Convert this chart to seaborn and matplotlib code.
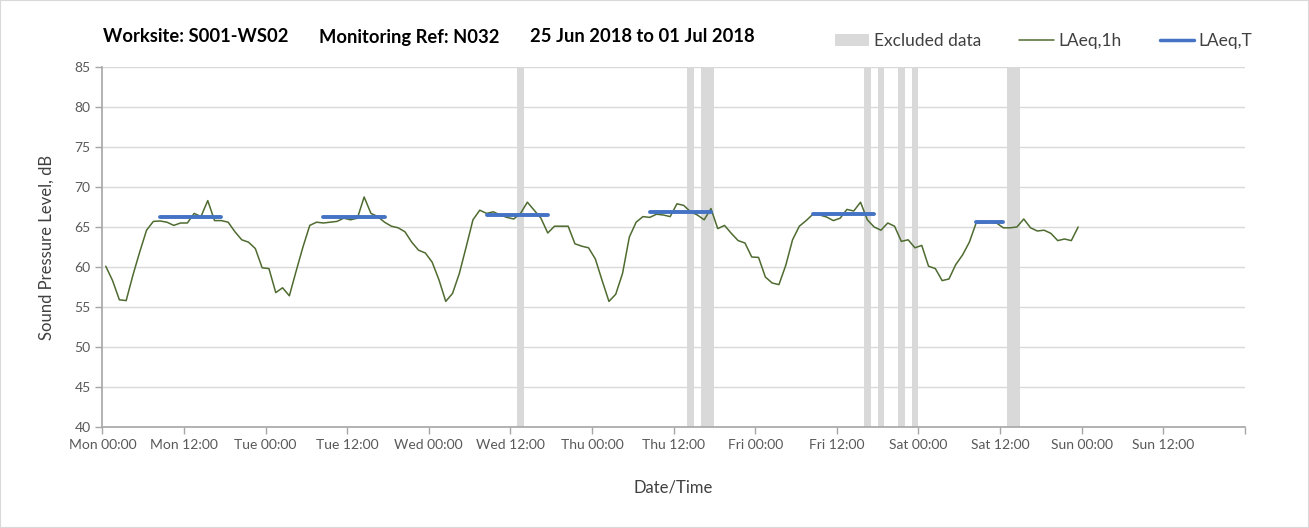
import pandas as pd
import seaborn as sns
from matplotlib import pyplot as plt
from matplotlib.lines import Line2D
from matplotlib.patches import Patch, Rectangle

# hourly LAeq,1h values, Mon 00:00 onwards (one value per hour)
LAEQ_1H = [
    60.1, 58.3, 55.9, 55.8, 59.0, 61.9, 64.6, 65.7, 65.75, 65.6, 65.2, 65.5,
    65.5, 66.7, 66.3, 68.3, 65.8, 65.8, 65.6, 64.4, 63.4, 63.1, 62.3, 59.9,
    59.8, 56.8, 57.4, 56.4, 59.5, 62.5, 65.2, 65.6, 65.5, 65.6, 65.7, 66.1,
    65.9, 66.1, 68.75, 66.7, 66.3, 65.6, 65.1, 64.9, 64.4, 63.1, 62.1, 61.75,
    60.6, 58.4, 55.7, 56.7, 59.2, 62.5, 65.9, 67.1, 66.7, 66.9, 66.5, 66.2,
    66.0, 66.7, 68.1, 67.1, 66.1, 64.25, 65.1, 65.1, 65.1, 62.9, 62.6, 62.4,
    61.0, 58.3, 55.7, 56.6, 59.2, 63.75, 65.6, 66.3, 66.2, 66.6, 66.5, 66.3,
    67.9, 67.7, 66.9, 66.5, 65.9, 67.3, 64.8, 65.2, 64.2, 63.3, 63.0, 61.25,
    61.2, 58.75, 58.0, 57.8, 60.2, 63.4, 65.1, 65.8, 66.6, 66.5, 66.25, 65.8,
    66.1, 67.2, 67.0, 68.1, 65.9, 65.0, 64.6, 65.5, 65.1, 63.2, 63.4, 62.4,
    62.7, 60.1, 59.8, 58.3, 58.5, 60.3, 61.5, 63.1, 65.5, 65.5, 65.6, 65.5,
    64.9, 64.9, 65.0, 66.0, 64.9, 64.5, 64.6, 64.2, 63.3, 63.5, 63.3, 65.0,
]

# excluded periods: start hour (from Mon 00:00) and length in hours
EXCLUDED_START = [61, 86, 88, 112, 114, 117, 119, 133]
EXCLUDED_HOURS = [1, 1, 2, 1, 1, 1, 1, 2]

# LAeq,T per working day: day index, period start / end hour, level
LAEQ_T_DAY = [0, 1, 2, 3, 4, 5]
LAEQ_T_FROM = [8, 8, 8, 8, 8, 8]
LAEQ_T_TO = [18, 18, 18, 18, 18, 13]
LAEQ_T = [66.25, 66.3, 66.5, 66.9, 66.6, 65.6]

DAYS = ["Mon", "Tue", "Wed", "Thu", "Fri", "Sat", "Sun"]
TITLE_PARTS = ["Worksite: S001-WS02", "Monitoring Ref: N032", "25 Jun 2018 to 01 Jul 2018"]

GREEN = "#4E6B30"
BLUE = "#4472C4"
BAND = "#D9D9D9"
AXIS = "#A6A6A6"
TEXT = "#595959"

sns.set_theme(style="white")
plt.rcParams["font.family"] = ["Lato", "DejaVu Sans"]

# hourly values are plotted in the middle of their hour
hourly = pd.DataFrame({"t": [h + 0.5 for h in range(len(LAEQ_1H))], "level": LAEQ_1H})

rows = []
for day, start, end, level in zip(LAEQ_T_DAY, LAEQ_T_FROM, LAEQ_T_TO, LAEQ_T):
    for h in range(start, end):
        rows.append({"period": day, "t": day * 24 + h + 0.5, "level": level})
periods = pd.DataFrame(rows)

fig, ax = plt.subplots(figsize=(13.09, 5.28), dpi=100)
fig.subplots_adjust(left=0.0782, right=0.9509, top=0.8731, bottom=0.1913)

for start, length in zip(EXCLUDED_START, EXCLUDED_HOURS):
    ax.axvspan(start, start + length, color=BAND, lw=0, zorder=1)

sns.lineplot(data=hourly, x="t", y="level", color=GREEN, lw=1.1, ax=ax, zorder=3)
sns.lineplot(
    data=periods, x="t", y="level", units="period", estimator=None,
    color=BLUE, lw=2.8, ax=ax, zorder=4,
)

ax.set_xlim(0, 168)
ax.set_ylim(40, 85)
ax.set_yticks(range(40, 90, 5))
major = list(range(0, 169, 12))
labels = [f"{DAYS[t // 24]} {t % 24:02d}:00" if t < 168 else "" for t in major]
ax.set_xticks(major)
ax.set_xticklabels(labels)
ax.set_xticks(range(0, 169, 24), minor=True)

ax.grid(axis="y", which="major", color=BAND, lw=1)
ax.grid(axis="x", which="minor", color=BAND, lw=1)
ax.set_axisbelow(True)

for side in ("top", "right"):
    ax.spines[side].set_visible(False)
for side in ("left", "bottom"):
    ax.spines[side].set_color(AXIS)
    ax.spines[side].set_linewidth(1.2)

ax.tick_params(axis="both", which="major", direction="out", length=5, width=1,
               color=AXIS, labelcolor=TEXT, labelsize=10, bottom=True, left=True)
ax.tick_params(axis="x", which="minor", length=0)

ax.set_xlabel("Date/Time", fontsize=12, color="#404040", labelpad=21)
ax.set_ylabel("Sound Pressure Level, dB", fontsize=12, color="#404040", labelpad=14)

for x, part in zip([103, 319, 530], TITLE_PARTS):
    fig.text(x / 1309, 1 - 37 / 528, part, fontsize=13.2, fontweight="bold",
             color="black", ha="left", va="center")

handles = [
    Patch(facecolor=BAND, edgecolor="none"),
    Line2D([], [], color=GREEN, lw=1.1),
    Line2D([], [], color=BLUE, lw=2.5),
]
fig.legend(handles, ["Excluded data", "LAeq,1h", "LAeq,T"], ncol=3, frameon=False,
           loc="center left", bbox_to_anchor=(819 / 1309, 1 - 41 / 528),
           fontsize=12.5, handlelength=2.0, handletextpad=0.25, columnspacing=2.2,
           labelcolor="#404040")

fig.patches.append(Rectangle((0, 0), 1, 1, transform=fig.transFigure, fill=False,
                             edgecolor=BAND, lw=1.5))

fig.savefig("out.png", dpi=100)
plt.close(fig)
